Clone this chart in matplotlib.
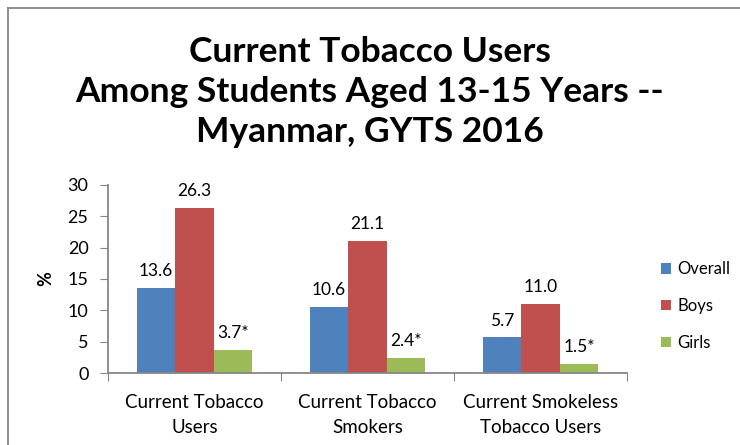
import numpy as np
import matplotlib.pyplot as plt
from matplotlib.lines import Line2D

categories = ["Current Tobacco\nUsers", "Current Tobacco\nSmokers", "Current Smokeless\nTobacco Users"]
series = ["Overall", "Boys", "Girls"]
overall = [13.6, 10.6, 5.7]
boys = [26.3, 21.1, 11.0]
girls = [3.7, 2.4, 1.5]
labels_overall = ["13.6", "10.6", "5.7"]
labels_boys = ["26.3", "21.1", "11.0"]
labels_girls = ["3.7*", "2.4*", "1.5*"]
colors = ["#4F81BD", "#C0504D", "#9BBB59"]

plt.rcParams['font.family'] = ['Lato', 'DejaVu Sans']

fig = plt.figure(figsize=(7.4, 4.45), dpi=100)
ax = fig.add_axes([108 / 740, 1 - 373 / 445, 519 / 740, 188 / 445])

x = np.arange(len(categories))
w = 0.222
data = [overall, boys, girls]
labs = [labels_overall, labels_boys, labels_girls]
for i, (vals, lab) in enumerate(zip(data, labs)):
    pos = x + (i - 1) * w
    ax.bar(pos, vals, width=w, color=colors[i], label=series[i])
    for p, v, t in zip(pos, vals, lab):
        ax.text(p, v + 1.4, t, ha='center', va='bottom', fontsize=12.5)

ax.set_xlim(-0.5, 2.5)
ax.set_ylim(0, 30)
ax.set_yticks(range(0, 31, 5))
ax.set_xticks([-0.5, 0.5, 1.5, 2.5])
ax.set_xticklabels([])
ax.set_xticks(x, minor=True)
ax.set_xticklabels(categories, minor=True, fontsize=13.5, linespacing=1.6)
ax.tick_params(axis='x', which='minor', length=0, pad=15)
ax.tick_params(axis='x', which='major', length=6, color='#868686', direction='out')
ax.tick_params(axis='y', length=6, color='#868686', labelsize=13, pad=8)
for s in ['top', 'right']:
    ax.spines[s].set_visible(False)
for s in ['left', 'bottom']:
    ax.spines[s].set_color('#868686')
    ax.spines[s].set_linewidth(1.3)

ax.set_ylabel('%', fontsize=13, fontweight='bold', labelpad=10)

ax.legend(loc='center left', bbox_to_anchor=(646 / 740, 1 - 306 / 445), bbox_transform=fig.transFigure,
          frameon=False, fontsize=12, handlelength=0.6, handleheight=0.6, labelspacing=1.25,
          handletextpad=0.4)

fig.text(0.5, 1 - 92 / 445, "Current Tobacco Users\nAmong Students Aged 13-15 Years --\nMyanmar, GYTS 2016",
         ha='center', va='center', fontsize=25.5, fontweight='bold', linespacing=1.3)

fig.add_artist(Line2D([8 / 740, 1], [1 - 8 / 445, 1 - 8 / 445], color='#868686', lw=1.3))
fig.add_artist(Line2D([8 / 740, 8 / 740], [0, 1 - 8 / 445], color='#868686', lw=1.3))

fig.savefig('out.png', dpi=100)
